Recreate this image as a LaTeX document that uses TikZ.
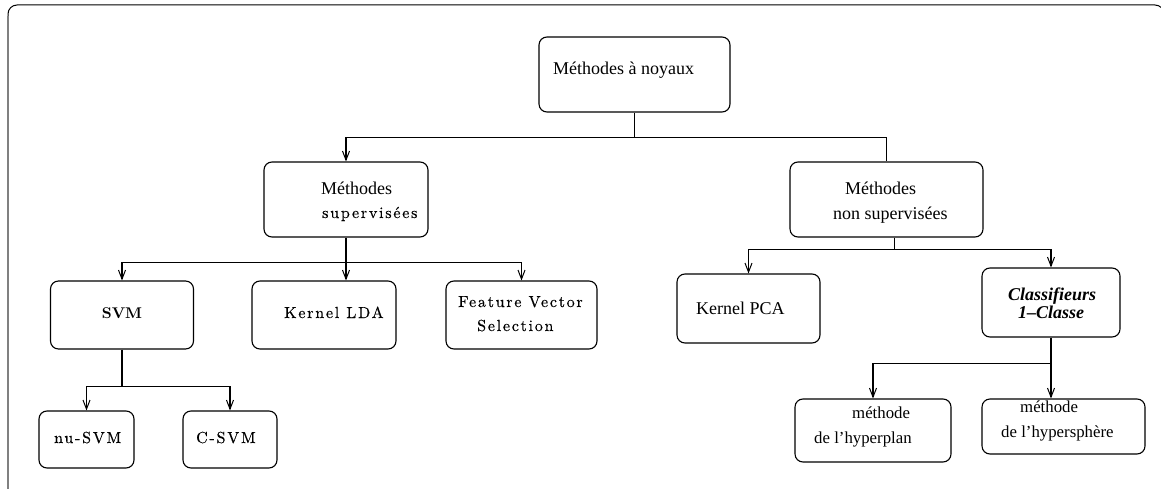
\documentclass[tikz,border=0pt]{standalone}
\usepackage{fontspec}
\newfontfamily\tms{Liberation Serif}
\newfontface\lmsp[LetterSpace=11,FakeBold=0.3]{lmroman10-regular.otf}
\newfontface\lmbold{lmroman10-bold.otf}
\usetikzlibrary{arrows.meta}

% text styles: Times-like headings, letter-spaced Computer Modern labels
\newcommand\bigtms{\tms\fontsize{18}{21}\selectfont}
\newcommand\smtms{\tms\fontsize{16.8}{20}\selectfont}
\newcommand\cmsp{\lmsp\fontsize{16}{19}\selectfont}
\newcommand\cmbold{\lmbold\fontsize{15.5}{18}\selectfont}

\tikzset{
  box/.style={draw, rounded corners=8pt, line width=1.1pt, inner sep=0pt},
  link/.style={line width=1.1pt},
  arr/.style={link, -{Straight Barb[length=9pt,width=7pt,line width=1pt]}},
  txt/.style={inner sep=0pt, anchor=base west},
}

\begin{document}
\begin{tikzpicture}[x=1pt,y=-1pt]
\useasboundingbox (0,0) rectangle (1161,489);

% outer frame
\draw[line width=1pt, rounded corners=9pt] (8,520) -- (8,5) -- (1164,5) -- (1164,520);
\draw[gray, line width=1.1pt] (8,489) -- (8,16);

% boxes
\node[box, minimum width=191pt, minimum height=75pt] (root)   at (634.5,74.5) {};
\node[box, minimum width=164pt, minimum height=75pt] (sup)    at (346,199.5) {};
\node[box, minimum width=193pt, minimum height=75pt] (nonsup) at (886.5,199.5) {};
\node[box, minimum width=143pt, minimum height=68pt] (svm)    at (122,315) {};
\node[box, minimum width=144pt, minimum height=68pt] (klda)   at (324,315) {};
\node[box, minimum width=151pt, minimum height=68pt] (fvs)    at (521.5,315) {};
\node[box, minimum width=95pt,  minimum height=57pt] (nusvm)  at (86.5,439.5) {};
\node[box, minimum width=94pt,  minimum height=57pt] (csvm)   at (230,439.5) {};
\node[box, minimum width=143pt, minimum height=69pt] (kpca)   at (748.5,308.5) {};
\node[box, minimum width=138pt, minimum height=69pt] (occ)    at (1051,302.5) {};
\node[box, minimum width=156pt, minimum height=63pt] (hplan)  at (873,430.5) {};
\node[box, minimum width=163pt, minimum height=55pt] (hsph)   at (1063.5,426.5) {};

% labels
\node[txt, font=\bigtms] (l-root) at (553,75) {Méthodes à noyaux};
\node[txt, font=\bigtms] (l-sup1) at (321,195) {Méthodes};
\node[txt, font=\cmsp]   (l-sup2) at (322,218) {supervisées};
\node[txt, font=\bigtms] (l-ns1)  at (845,195) {Méthodes};
\node[txt, font=\bigtms] (l-ns2)  at (833,219) {non supervisées};
\node[inner sep=0pt, font=\cmbold] (l-svm) at (122,313) {SVM};
\node[txt, font=\cmsp]   (l-klda) at (284,318) {Kernel LDA};
\node[txt, font=\cmsp]   (l-fvs1) at (458,307) {Feature Vector};
\node[txt, font=\cmsp]   (l-fvs2) at (477,331) {Selection};
\node[txt, font=\cmsp]   (l-nu)   at (54,443) {nu-SVM};
\node[txt, font=\cmsp]   (l-c)    at (196,443) {C-SVM};
\node[txt, font=\bigtms] (l-kpca) at (696,314) {Kernel PCA};
\node[txt, font=\bigtms\bfseries\itshape] (l-occ1) at (1008,300) {Classifieurs};
\node[txt, font=\bigtms\bfseries\itshape] (l-occ2) at (1018,318) {1–Classe};
\node[txt, font=\smtms]  (l-hp1)  at (852,418) {méthode};
\node[txt, font=\smtms]  (l-hp2)  at (814,443) {de l’hyperplan};
\node[txt, font=\smtms]  (l-hs1)  at (1020,412) {méthode};
\node[txt, font=\smtms]  (l-hs2)  at (1001,437) {de l’hypersphère};

% connectors
\draw[link] (root.south) -- ++(0,25) -| (nonsup.north);
\draw[arr]  (root.south) ++(0,25) -| (sup.north);

\draw[arr]  (sup.south) -- (sup.south |- klda.north);
\draw[arr]  (sup.south) ++(0,25) -| (svm.north);
\draw[arr]  (sup.south) ++(0,25) -| (fvs.north);

\draw[link] (svm.south) -- ++(0,37);
\draw[arr]  (svm.south) ++(0,37) -| (nusvm.north);
\draw[arr]  (svm.south) ++(0,37) -| (csvm.north);

\draw[link] ([xshift=8pt]nonsup.south) -- ++(0,12);
\draw[arr]  ([xshift=8pt]nonsup.south) ++(0,12) -| (kpca.north);
\draw[arr]  ([xshift=8pt]nonsup.south) ++(0,12) -| (occ.north);

\draw[arr]  (occ.south) -- (occ.south |- hsph.north);
\draw[arr]  (occ.south) ++(0,26) -| (hplan.north);
\end{tikzpicture}
\end{document}
